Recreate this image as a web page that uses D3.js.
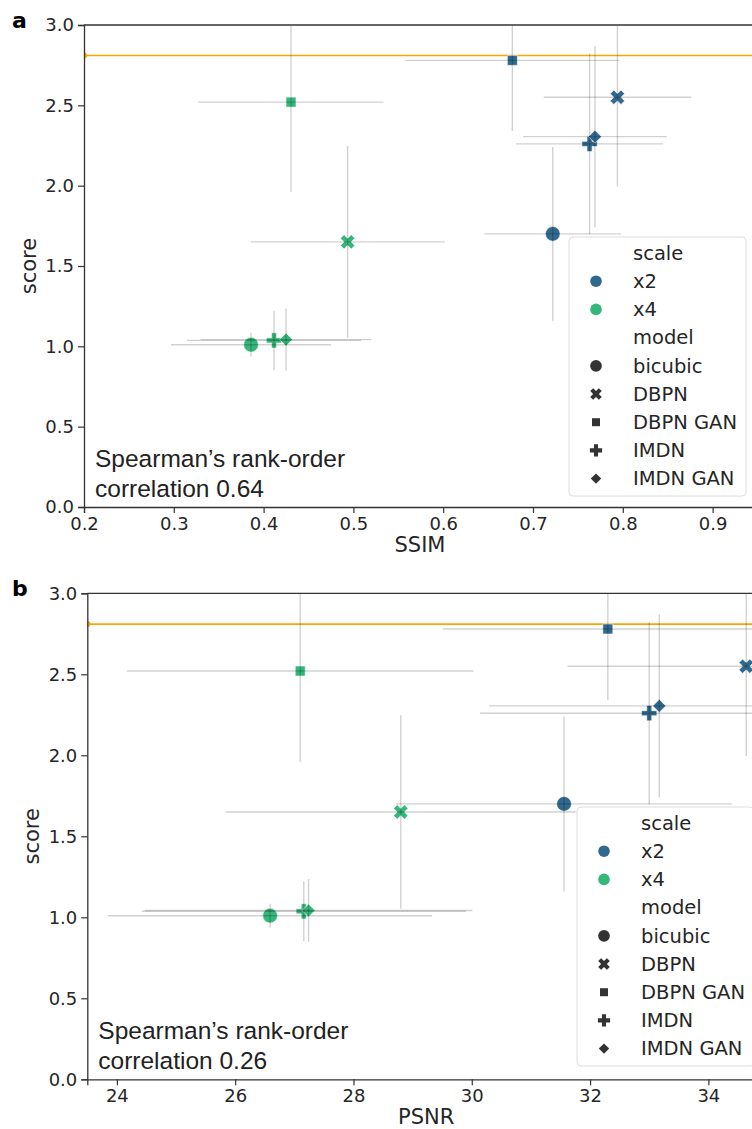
<!DOCTYPE html>
<html>
<head>
<meta charset="utf-8">
<script src="https://cdn.jsdelivr.net/npm/d3@7"></script>
<style>
  body { margin: 0; background: #fff; }
  svg { display: block; }
</style>
</head>
<body>
<div id="chart"></div>
<script>
// categories
var models = ["bicubic", "DBPN", "DBPN GAN", "IMDN", "IMDN GAN"];
var scales = ["x2", "x4"];

// mean opinion score (same in both panels)
var scoreX2 = [1.70, 2.55, 2.78, 2.26, 2.305];
var scoreSdX2 = [0.54, 0.555, 0.44, 0.563, 0.565];
var scoreX4 = [1.01, 1.65, 2.52, 1.037, 1.042];
var scoreSdX4 = [0.074, 0.597, 0.56, 0.185, 0.194];

// SSIM
var ssimX2 = [0.722, 0.794, 0.677, 0.763, 0.769];
var ssimSdX2 = [0.076, 0.082, 0.119, 0.082, 0.080];
var ssimX4 = [0.386, 0.4936, 0.4305, 0.4116, 0.425];
var ssimSdX4 = [0.089, 0.108, 0.103, 0.097, 0.095];

// PSNR
var psnrX2 = [31.56, 34.64, 32.30, 33.00, 33.17];
var psnrSdX2 = [2.84, 3.02, 2.79, 2.86, 2.88];
var psnrX4 = [26.59, 28.80, 27.10, 27.16, 27.24];
var psnrSdX4 = [2.74, 2.96, 2.93, 2.74, 2.77];

// high resolution reference score
var hrScore = 2.81;

var ssimTicks = [0.2, 0.3, 0.4, 0.5, 0.6, 0.7, 0.8, 0.9];
var psnrTicks = [24, 26, 28, 30, 32, 34];
var scoreTicks = [0.0, 0.5, 1.0, 1.5, 2.0, 2.5, 3.0];

var spearmanA = 0.64;
var spearmanB = 0.26;

function buildRows(xs2, xsd2, xs4, xsd4) {
    var rows = [];
    models.forEach(function(m, i) {
        rows.push({scale: "x2", model: m, x: xs2[i], xsd: xsd2[i], y: scoreX2[i], ysd: scoreSdX2[i]});
    });
    models.forEach(function(m, i) {
        rows.push({scale: "x4", model: m, x: xs4[i], xsd: xsd4[i], y: scoreX4[i], ysd: scoreSdX4[i]});
    });
    return rows;
}

var color = d3.scaleOrdinal().domain(scales).range(["#31688e", "#35b779"]);

// seaborn style markers: o, X, square, P, diamond
function markerPath(model, k) {
    k = k || 1;
    if (model == "bicubic") return {d: d3.symbol(d3.symbolCircle, 170 * k * k)(), rot: 0};
    if (model == "DBPN") return {d: d3.symbol(d3.symbolCross, 130 * k * k)(), rot: 45};
    if (model == "DBPN GAN") return {d: d3.symbol(d3.symbolSquare, 100 * k * k)(), rot: 0};
    if (model == "IMDN") return {d: d3.symbol(d3.symbolCross, 130 * k * k)(), rot: 0};
    return {d: d3.symbol(d3.symbolSquare, 85 * k * k)(), rot: 45};
}

var svg = d3.select("#chart").append("svg")
    .attr("width", 752)
    .attr("height", 1129)
    .style("font-family", "'DejaVu Sans', sans-serif");

function drawPanel(cfg) {
    var x = d3.scaleLinear().domain(cfg.xDomain).range([cfg.left, cfg.right]);
    var y = d3.scaleLinear().domain([0, 3]).range([cfg.bottom, cfg.top]);
    var g = svg.append("g");

    var clipId = "clip" + cfg.letter;
    g.append("clipPath").attr("id", clipId)
        .append("rect")
        .attr("x", cfg.left).attr("y", cfg.top)
        .attr("width", cfg.right - cfg.left).attr("height", cfg.bottom - cfg.top);

    var plot = g.append("g").attr("clip-path", "url(#" + clipId + ")");

    // reference line
    plot.append("line")
        .attr("x1", cfg.left).attr("x2", cfg.right)
        .attr("y1", y(hrScore)).attr("y2", y(hrScore))
        .attr("stroke", "#ffa500").attr("stroke-width", 1.6);
    plot.append("circle")
        .attr("cx", cfg.left).attr("cy", y(hrScore)).attr("r", 3)
        .attr("fill", "#ffa500");

    // markers
    plot.selectAll("path.pt")
        .data(cfg.rows)
        .enter().append("path")
        .attr("class", "pt")
        .attr("d", function(d) { return markerPath(d.model).d; })
        .attr("transform", function(d) {
            return "translate(" + x(d.x) + "," + y(d.y) + ") rotate(" + markerPath(d.model).rot + ")";
        })
        .attr("fill", function(d) { return color(d.scale); })
        .attr("stroke", "#fff").attr("stroke-width", 0.6);

    // error bars on top
    var eb = plot.append("g").attr("stroke", "#000").attr("stroke-opacity", 0.18).attr("stroke-width", 1.4);
    eb.selectAll("line.h")
        .data(cfg.rows)
        .enter().append("line")
        .attr("x1", function(d) { return x(d.x - d.xsd); })
        .attr("x2", function(d) { return x(d.x + d.xsd); })
        .attr("y1", function(d) { return y(d.y); })
        .attr("y2", function(d) { return y(d.y); });
    eb.selectAll("line.v")
        .data(cfg.rows)
        .enter().append("line")
        .attr("x1", function(d) { return x(d.x); })
        .attr("x2", function(d) { return x(d.x); })
        .attr("y1", function(d) { return y(d.y - d.ysd); })
        .attr("y2", function(d) { return y(d.y + d.ysd); });

    // axes
    var xAxis = g.append("g")
        .attr("transform", "translate(0," + cfg.bottom + ")")
        .call(d3.axisBottom(x).tickValues(cfg.xTicks).tickSize(6).tickPadding(4)
            .tickFormat(cfg.xFormat));
    var yAxis = g.append("g")
        .attr("transform", "translate(" + cfg.left + ",0)")
        .call(d3.axisLeft(y).tickValues(scoreTicks).tickSize(6).tickPadding(4)
            .tickFormat(d3.format(".1f")));
    [xAxis, yAxis].forEach(function(a) {
        a.select(".domain").attr("stroke", "#333").attr("stroke-width", 1.3);
        a.selectAll(".tick line").attr("stroke", "#333").attr("stroke-width", 1.2);
        a.selectAll(".tick text").attr("fill", "#262626")
            .style("font-size", "18px").style("font-family", "'DejaVu Sans', sans-serif");
    });
    // top spine
    g.append("line")
        .attr("x1", cfg.left).attr("x2", cfg.right)
        .attr("y1", cfg.top).attr("y2", cfg.top)
        .attr("stroke", "#333").attr("stroke-width", 1.3);

    // axis labels
    g.append("text")
        .attr("x", (cfg.left + cfg.right) / 2).attr("y", cfg.bottom + 45)
        .attr("text-anchor", "middle").attr("fill", "#262626")
        .style("font-size", "21px").text(cfg.xLabel);
    g.append("text")
        .attr("transform", "translate(" + (cfg.left - 48) + "," + ((cfg.top + cfg.bottom) / 2) + ") rotate(-90)")
        .attr("text-anchor", "middle").attr("fill", "#262626")
        .style("font-size", "21px").text("score");

    // panel letter
    g.append("text")
        .attr("x", 12).attr("y", cfg.top + 3)
        .style("font-size", "22px").style("font-weight", "bold").attr("fill", "#000")
        .text(cfg.letter);

    // correlation note
    var note = g.append("text")
        .attr("x", cfg.left + 11).attr("y", cfg.bottom - 40)
        .attr("fill", "#222")
        .style("font-family", "'Liberation Sans', Arial, sans-serif")
        .style("font-size", "24.5px");
    note.append("tspan").attr("x", cfg.left + 11).text("Spearman\u2019s rank-order");
    note.append("tspan").attr("x", cfg.left + 11).attr("dy", 29.5).text("correlation " + cfg.rho.toFixed(2));

    // legend
    var lg = g.append("g").attr("transform", "translate(" + cfg.legendX + "," + cfg.legendY + ")");
    lg.append("rect")
        .attr("width", 177).attr("height", 259).attr("rx", 4)
        .attr("fill", "#fff").attr("fill-opacity", 0.8)
        .attr("stroke", "#dcdcdc").attr("stroke-width", 1);
    var entries = [{label: "scale", kind: "title"}]
        .concat(scales.map(function(s) { return {label: s, kind: "scale"}; }))
        .concat([{label: "model", kind: "title"}])
        .concat(models.map(function(m) { return {label: m, kind: "model"}; }));
    var item = lg.selectAll("g.item")
        .data(entries)
        .enter().append("g")
        .attr("transform", function(d, i) { return "translate(0," + (16 + i * 28.2) + ")"; });
    item.filter(function(d) { return d.kind == "scale"; })
        .append("circle").attr("cx", 27).attr("cy", 0).attr("r", 5.8)
        .attr("fill", function(d) { return color(d.label); });
    item.filter(function(d) { return d.kind == "model"; })
        .append("path")
        .attr("d", function(d) { return markerPath(d.label, 0.8).d; })
        .attr("transform", function(d) { return "translate(27,0) rotate(" + markerPath(d.label).rot + ")"; })
        .attr("fill", "#333");
    item.append("text")
        .attr("x", 64).attr("dy", "0.35em")
        .attr("fill", "#262626").style("font-size", "19.5px")
        .text(function(d) { return d.label; });
}

drawPanel({
    letter: "a", left: 84, right: 756, top: 25, bottom: 507,
    xDomain: [0.2, 0.2 + 672 / 898], xTicks: ssimTicks, xFormat: d3.format(".1f"),
    xLabel: "SSIM", rho: spearmanA,
    rows: buildRows(ssimX2, ssimSdX2, ssimX4, ssimSdX4),
    legendX: 569, legendY: 237
});

drawPanel({
    letter: "b", left: 87.3, right: 765, top: 593.3, bottom: 1079.3,
    xDomain: [23.5, 23.5 + (765 - 87.3) / 59.15], xTicks: psnrTicks, xFormat: d3.format("d"),
    xLabel: "PSNR", rho: spearmanB,
    rows: buildRows(psnrX2, psnrSdX2, psnrX4, psnrSdX4),
    legendX: 577, legendY: 807
});
</script>
</body>
</html>
